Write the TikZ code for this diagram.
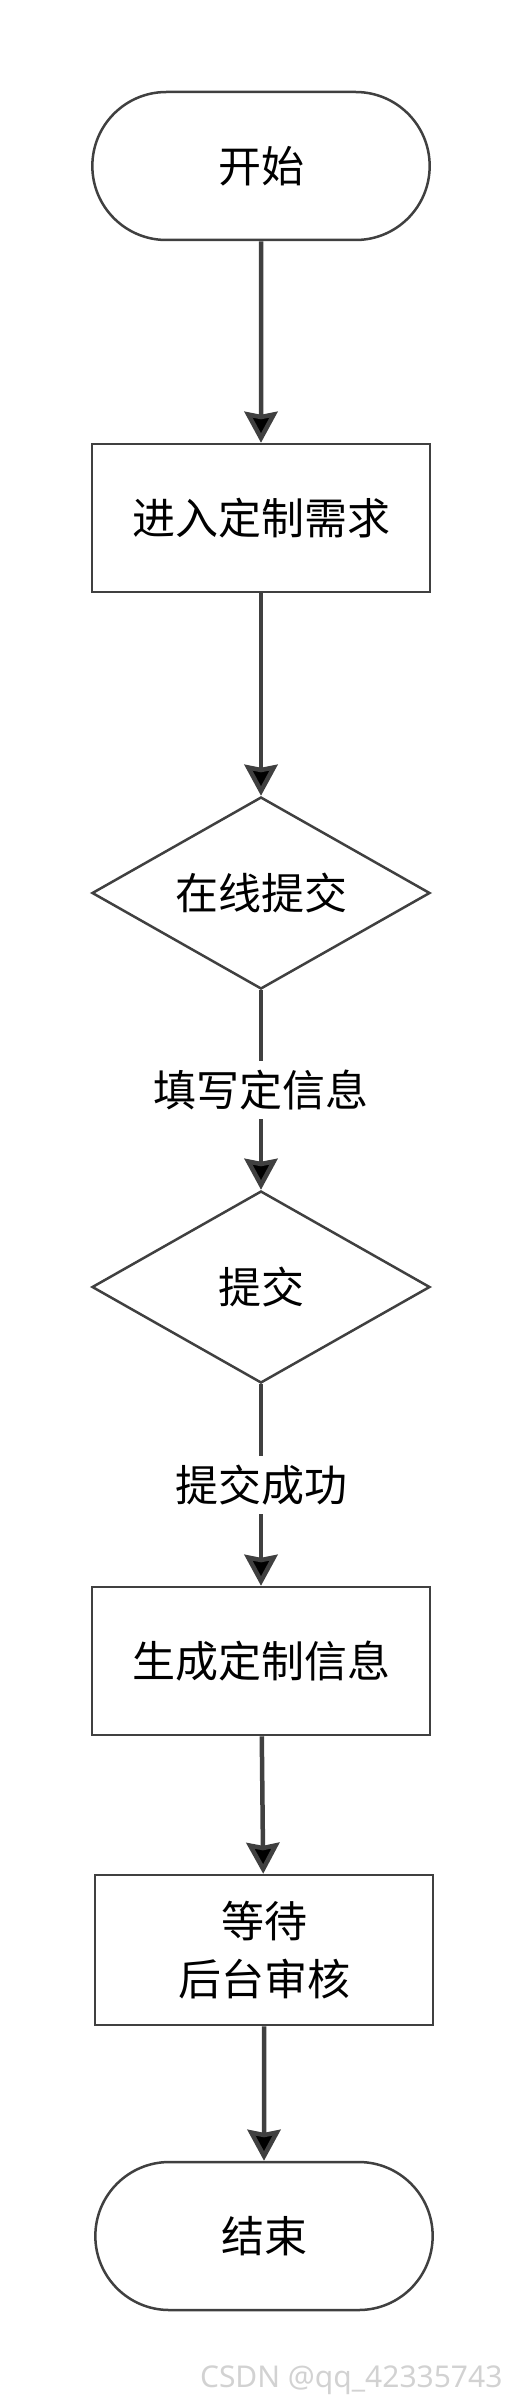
\documentclass[tikz,border=0pt]{standalone}
\usepackage{fontspec}
\newfontfamily\cjk{Noto Sans CJK SC}
\newfontfamily\wmfont{Noto Sans}
\usetikzlibrary{arrows.meta,positioning,shapes.geometric,shapes.misc}
\definecolor{linegray}{HTML}{404040}
\definecolor{wmgray}{HTML}{D2D2D2}

\begin{document}
\begin{tikzpicture}[x=1pt,y=-1pt,>={Stealth[length=31pt,width=33pt,inset=3pt]},
    on grid,font=\cjk\fontsize{43}{58}\selectfont,
    term/.style={rounded rectangle,draw=linegray,line width=2.5pt,
        minimum width=344pt,minimum height=148pt},
    proc/.style={rectangle,draw=linegray,line width=2.5pt,
        minimum width=338pt,minimum height=148pt,align=center},
    decision/.style={diamond,draw=linegray,line width=2.5pt,aspect=1.76,
        minimum width=338pt,minimum height=192pt,inner sep=0pt},
    flow/.style={->,draw=linegray,line width=4.5pt},
    lbl/.style={fill=white,inner sep=9pt}]
    \useasboundingbox (0,0) rectangle (524,2400);

    \node[term]     (start)  at (261,166)                  {开始};
    \node[proc]     (enter)  [below=352pt of start]        {进入定制需求};
    \node[decision] (online) [below=375pt of enter]        {在线提交};
    \node[decision] (submit) [below=394pt of online]       {提交};
    \node[proc]     (gen)    [below=374pt of submit]       {生成定制信息};
    \node[proc,minimum height=150pt]
                    (wait)   [below right=289pt and 3pt of gen] {等待\\后台审核};
    \node[term]     (stop)   [below=286pt of wait]         {结束};

    \path [flow]
        (start)  edge (enter)
        (enter)  edge (online)
        (online) edge node[lbl] {填写定信息} (submit)
        (submit) edge node[lbl] {提交成功} (gen)
        (gen)    edge (wait)
        (wait)   edge (stop);

    \node[font=\wmfont\fontsize{30}{36}\selectfont,text=wmgray,anchor=base east]
        (mark) at (506,2387) {CSDN @qq\_42335743};
\end{tikzpicture}
\end{document}
